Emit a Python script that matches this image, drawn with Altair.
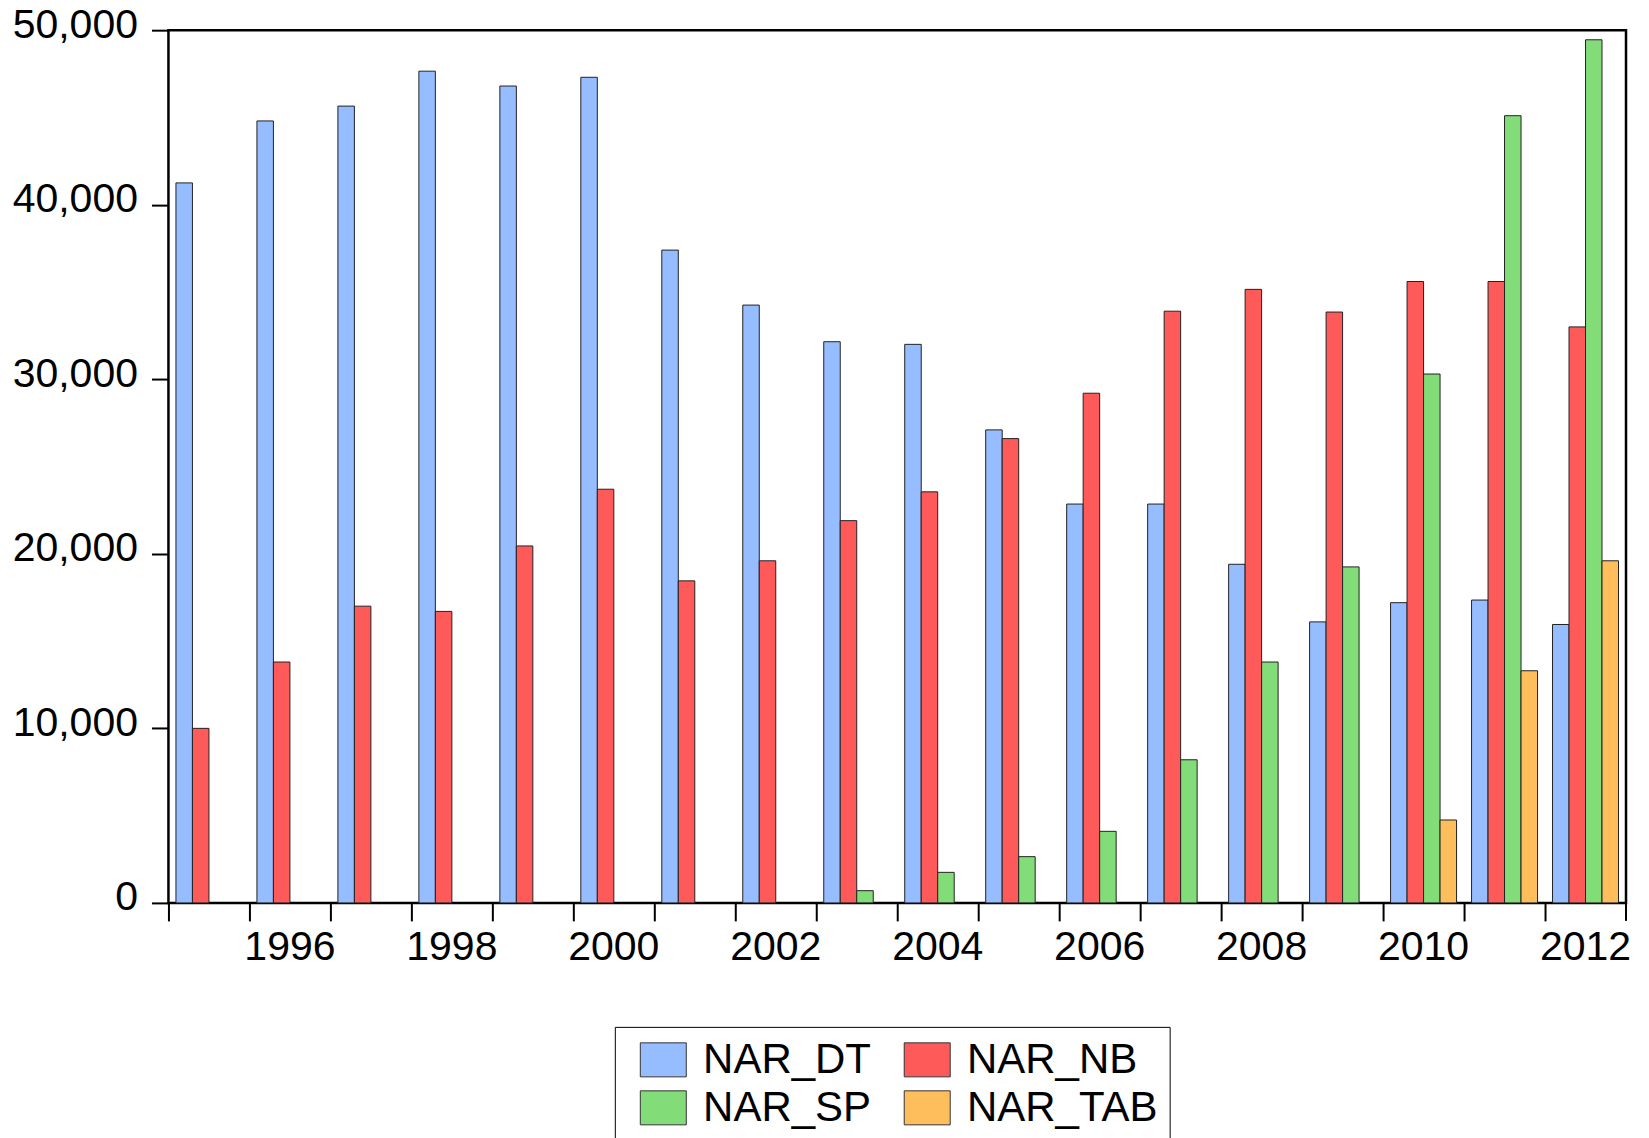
import altair as alt
import pandas as pd

years = list(range(1995, 2013))
series_names = ["NAR_DT", "NAR_NB", "NAR_SP", "NAR_TAB"]
series_colors = ["#95BDFF", "#FF5A5A", "#82DC78", "#FFBE5C"]

nar_dt = [41250, 44800, 45650, 47650, 46800, 47300, 37400, 34250, 32150,
          32000, 27100, 22850, 22850, 19400, 16100, 17200, 17350, 15950]
nar_nb = [10000, 13800, 17000, 16700, 20450, 23700, 18450, 19600, 21900,
          23550, 26600, 29200, 33900, 35150, 33850, 35600, 35600, 33000]
nar_sp = [None, None, None, None, None, None, None, None, 700,
          1750, 2650, 4100, 8200, 13800, 19250, 30300, 45100, 49450]
nar_tab = [None, None, None, None, None, None, None, None, None,
           None, None, None, None, None, None, 4750, 13300, 19600]

y_ticks = [0, 10000, 20000, 30000, 40000, 50000]

rows = []
for name, vals in zip(series_names, [nar_dt, nar_nb, nar_sp, nar_tab]):
    for yr, v in zip(years, vals):
        if v is not None:
            rows.append({"year": yr, "series": name, "value": v})
df = pd.DataFrame(rows)

W, H = 1458, 873
FONT = "Liberation Sans"

bars = alt.Chart(df).mark_bar(stroke="#222222", strokeWidth=1).encode(
    x=alt.X(
        "year:O",
        scale=alt.Scale(domain=years, paddingInner=0, paddingOuter=0),
        axis=alt.Axis(
            title=None,
            domain=False,
            bandPosition=0,
            labelExpr="datum.value % 2 == 0 ? datum.label : ''",
            labelOverlap=False,
            labelBound=False,
            labelFlush=False,
            labelAngle=0,
            tickSize=18,
            tickWidth=2,
            tickColor="black",
            labelFontSize=41,
            labelFont=FONT,
            labelColor="black",
            labelPadding=7,
            grid=False,
        ),
    ),
    xOffset=alt.XOffset(
        "series:N",
        scale=alt.Scale(domain=series_names, paddingInner=0, paddingOuter=0.4545),
    ),
    y=alt.Y(
        "value:Q",
        scale=alt.Scale(domain=[0, 50000], nice=False, zero=True),
        axis=alt.Axis(
            title=None,
            domain=False,
            values=y_ticks,
            format=",.0f",
            tickSize=17,
            tickWidth=2,
            tickColor="black",
            labelFontSize=41,
            labelFont=FONT,
            labelColor="black",
            labelPadding=14,
            labelBaseline="alphabetic",
            labelOffset=7,
            grid=False,
        ),
    ),
    color=alt.Color(
        "series:N",
        scale=alt.Scale(domain=series_names, range=series_colors),
        legend=alt.Legend(
            title=None,
            orient="none",
            direction="horizontal",
            legendX=446.5,
            legendY=997,
            columns=2,
            columnPadding=19,
            rowPadding=6,
            padding=12,
            symbolOffset=15.5,
            symbolType="M-1.353,-1H1.353V1H-1.353Z",
            symbolSize=1156,
            symbolStrokeColor="#333333",
            symbolStrokeWidth=1,
            symbolOpacity=1,
            labelFontSize=42,
            labelFont=FONT,
            labelColor="black",
            labelOffset=18.8,
            labelLimit=400,
            strokeColor="black",
            fillColor="white",
        ),
    ),
)

end_tick = alt.Chart(alt.Data(values=[{"t": 1}])).mark_rule(
    color="black", strokeWidth=2
).encode(
    x=alt.value(W),
    y=alt.value(H),
    y2=alt.value(H + 18),
)

chart = alt.layer(bars, end_tick).properties(
    width=W,
    height=H,
    autosize=alt.AutoSizeParams(type="none"),
    padding={"left": 160.5, "top": 22, "right": 15, "bottom": 245},
    background="white",
).configure(font=FONT).configure_view(stroke="black", strokeWidth=2.5)

chart.save("out.html", embed_options={"renderer": "svg", "actions": False})
